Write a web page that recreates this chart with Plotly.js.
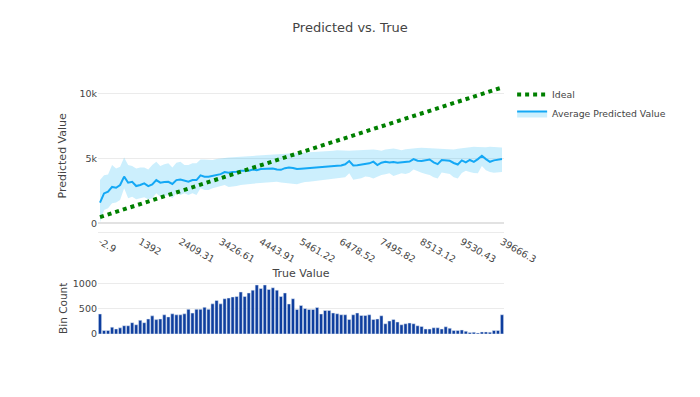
<!DOCTYPE html>
<html>
<head>
<meta charset="utf-8">
<script src="https://cdn.plot.ly/plotly-3.0.1.min.js"></script>
<style>html,body{margin:0;padding:0;background:#fff;}#chart{width:700px;height:397px;}</style>
</head>
<body>
<div id="chart"></div>
<script>
// Tick labels shown on the x axis (every 10th bin)
var tickLabels = ["-2.9", "1392", "2409.31", "3426.61", "4443.91", "5461.22", "6478.52", "7495.82", "8513.12", "9530.43", "39666.3"];
var tickBins = [0, 10, 20, 30, 40, 50, 60, 70, 80, 90, 100];

// Average predicted value per bin
var meanPred = [1590, 2300, 2440, 2800, 2740, 2950, 3600, 3130, 3200, 2870,
  2950, 3080, 2870, 3000, 3330, 3130, 3180, 3200, 3030, 3330,
  3380, 3280, 3200, 3330, 3330, 3690, 3590, 3590, 3640, 3720,
  3790, 3950, 3900, 3950, 3970, 4050, 4030, 4050, 4150, 4100,
  4180, 4200, 4230, 4230, 4150, 4120, 4250, 4300, 4260, 4180,
  4200, 4230, 4250, 4300, 4330, 4350, 4380, 4420, 4430, 4440,
  4450, 4550, 4800, 4460, 4480, 4540, 4560, 4620, 4750, 4490,
  4670, 4740, 4690, 4720, 4670, 4700, 4680, 4760, 4950, 4820,
  4800, 4880, 4920, 4700, 4560, 4870, 4860, 4820, 4650, 4530,
  4850, 4700, 4880, 4740, 4950, 5200, 4950, 4740, 4850, 4880, 4950];

// Upper edge of the band
var upperPred = [3330, 3700, 3770, 4500, 4230, 4360, 5080, 4500, 4410, 4230,
  4300, 4300, 4150, 4500, 4740, 4410, 4560, 4620, 4300, 4670,
  4740, 4490, 4490, 4620, 4620, 4920, 4920, 4920, 4870, 4950,
  5000, 5080, 5080, 5100, 5120, 5150, 5150, 5180, 5200, 5200,
  5220, 5230, 5250, 5270, 5300, 5330, 5350, 5380, 5400, 5420,
  5420, 5430, 5440, 5480, 5500, 5520, 5540, 5560, 5600, 5640,
  5620, 5640, 5600, 5620, 5640, 5640, 5660, 5680, 5690, 5650,
  5600, 5680, 5740, 5770, 5700, 5640, 5700, 5750, 5770, 5800,
  5820, 5800, 5780, 5770, 5740, 5720, 5700, 5690, 5690, 5750,
  5800, 5850, 5880, 5900, 5880, 5850, 5870, 5900, 5900, 5880, 5850];

// Lower edge of the band
var lowerPred = [80, 1030, 1150, 1540, 1600, 1800, 2700, 1920, 2050, 1850,
  1920, 2000, 1850, 1920, 2310, 2050, 2100, 2180, 1920, 2310,
  2180, 2310, 2180, 2310, 2180, 2700, 2560, 2560, 2700, 2770,
  2870, 2950, 2800, 2830, 2870, 2950, 3000, 3020, 3050, 3080,
  3100, 3130, 3150, 3180, 3200, 3150, 3100, 3080, 3030, 3000,
  3100, 3180, 3200, 3240, 3280, 3300, 3330, 3360, 3400, 3450,
  3480, 3550, 3850, 3350, 3420, 3480, 3600, 3560, 3460, 3600,
  3720, 3780, 3850, 3640, 3750, 3850, 3800, 3900, 4150, 4000,
  3900, 3800, 3720, 3550, 3460, 3920, 3870, 3800, 3550, 3460,
  3870, 4050, 3950, 3870, 3850, 4410, 4080, 3950, 3900, 3920, 3950];

// Number of samples per bin
var binCounts = [400, 70, 70, 137, 100, 123, 165, 165, 226, 185,
  274, 226, 300, 363, 288, 300, 384, 342, 404, 384,
  384, 404, 493, 418, 493, 493, 534, 493, 603, 671,
  603, 705, 719, 740, 750, 840, 750, 820, 877, 980,
  910, 980, 890, 925, 877, 750, 820, 600, 705, 490,
  570, 510, 490, 490, 530, 400, 470, 470, 420, 405,
  385, 385, 290, 385, 420, 370, 370, 385, 290, 300,
  365, 205, 260, 290, 240, 185, 205, 220, 205, 165,
  150, 100, 100, 125, 125, 100, 145, 115, 70, 70,
  80, 55, 30, 35, 20, 40, 40, 35, 70, 70, 385];

// Ideal (y = x) line end values
var idealEnds = [480, 10470];

var bins = binCounts.map(function (_, i) { return i; });
var idealX = [bins[0], bins[bins.length - 1]];

var FONT = "DejaVu Sans, Verdana, sans-serif";
var BLUE = "rgb(20,168,245)";
var FILL = "rgba(0,176,246,0.2)";

var traces = [
  {x: bins, y: upperPred, type: "scatter", mode: "lines", line: {width: 0, color: BLUE},
   showlegend: false, hoverinfo: "skip", xaxis: "x", yaxis: "y"},
  {x: bins, y: meanPred, type: "scatter", mode: "lines", name: "Average Predicted Value",
   line: {width: 2, color: BLUE}, fill: "tonexty", fillcolor: FILL, legendrank: 2,
   xaxis: "x", yaxis: "y"},
  {x: bins, y: lowerPred, type: "scatter", mode: "lines", line: {width: 0, color: BLUE},
   fill: "tonexty", fillcolor: FILL, showlegend: false, hoverinfo: "skip", xaxis: "x", yaxis: "y"},
  {x: idealX, y: idealEnds, type: "scatter", mode: "lines", name: "Ideal",
   line: {width: 4, color: "rgb(0,128,0)", dash: "dot"}, legendrank: 1, xaxis: "x", yaxis: "y"},
  {x: bins, y: binCounts, type: "bar", showlegend: false,
   marker: {color: "rgb(14,62,158)", line: {color: "#E5ECF6", width: 0.5}},
   xaxis: "x2", yaxis: "y2"}
];

var grid = "#ebebeb";
var layout = {
  width: 700, height: 397,
  paper_bgcolor: "#fff", plot_bgcolor: "#fff",
  font: {family: FONT, color: "#444", size: 9.5},
  margin: {l: 98, r: 196, t: 80, b: 63},
  title: {text: "Predicted vs. True", font: {family: FONT, size: 13, color: "#444"},
          x: 0.5, xref: "container", y: 0.931, yref: "container", yanchor: "middle"},
  showlegend: true,
  legend: {traceorder: "normal", font: {family: FONT, size: 9.3, color: "#444"}},
  xaxis: {domain: [0, 1], anchor: "y", range: [-0.5, 100.5], showgrid: false, zeroline: false,
          showline: true, linecolor: grid, linewidth: 1,
          tickmode: "array", tickvals: tickBins, ticktext: tickLabels, tickangle: 30,
          tickfont: {size: 9.5, color: "#444"},
          title: {text: "True Value", font: {size: 11, color: "#444"}}, automargin: false},
  yaxis: {domain: [0.4028, 1], anchor: "x", range: [-650, 11050], dtick: 5000,
          gridcolor: grid, zeroline: true, zerolinecolor: "#e2e2e2", zerolinewidth: 2,
          tickfont: {size: 9.5, color: "#444"},
          title: {text: "Predicted Value", font: {size: 11, color: "#444"}}, automargin: false},
  xaxis2: {domain: [0, 1], anchor: "y2", range: [-0.5, 100.5], showgrid: false, zeroline: false,
           showticklabels: false, automargin: false},
  yaxis2: {domain: [0, 0.2028], anchor: "x2", range: [0, 1030], dtick: 500,
           gridcolor: grid, zeroline: false, tickfont: {size: 9.5, color: "#444"},
           title: {text: "Bin Count", font: {size: 10.5, color: "#444"}}, automargin: false}
};

Plotly.newPlot("chart", traces, layout, {displayModeBar: false, staticPlot: true});
</script>
</body>
</html>
